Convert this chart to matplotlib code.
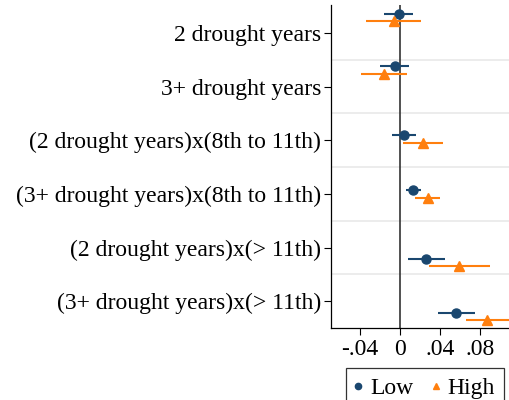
import matplotlib
matplotlib.use('Agg')
import matplotlib.pyplot as plt
from matplotlib.lines import Line2D
import numpy as np

plt.rcParams['font.family'] = ['Liberation Serif', 'DejaVu Serif']

# coefficient labels, top to bottom
labels = ['2 drought years',
          '3+ drought years',
          '(2 drought years)x(8th to 11th)',
          '(3+ drought years)x(8th to 11th)',
          '(2 drought years)x(> 11th)',
          '(3+ drought years)x(> 11th)']

# point estimates and 95% CI
low_est = [-0.001, -0.005, 0.004, 0.013, 0.026, 0.056]
low_lo = [-0.016, -0.020, -0.008, 0.006, 0.008, 0.038]
low_hi = [0.013, 0.009, 0.016, 0.021, 0.045, 0.075]

high_est = [-0.006, -0.016, 0.023, 0.028, 0.059, 0.087]
high_lo = [-0.034, -0.039, 0.003, 0.015, 0.029, 0.066]
high_hi = [0.021, 0.007, 0.043, 0.040, 0.090, 0.115]

xticks = [-0.04, 0, 0.04, 0.08]
xticklabels = ['-.04', '0', '.04', '.08']

navy = '#1a476f'
orange = '#ff7f0e'

# vertical placement of the markers relative to each label row
row_shift = [-0.36, -0.38, -0.09, -0.07, 0.21, 0.22]
high_gap = 0.14

fig = plt.figure(figsize=(5.1, 4), dpi=100)
ax = fig.add_axes([331/510, 72/400, 179/510, 323/400])

rows = np.arange(len(labels))
y_low = rows + np.array(row_shift)
y_high = y_low + high_gap

for k in range(len(labels) - 1):
    ax.axhline(k + 0.5, color='#eaeaea', lw=1.3, zorder=0)
ax.axvline(0, color='#222222', lw=1.1, zorder=1)

ax.hlines(y_low, low_lo, low_hi, color=navy, lw=1.5, zorder=2)
ax.plot(low_est, y_low, 'o', color=navy, ms=6.5, zorder=3)
ax.hlines(y_high, high_lo, high_hi, color=orange, lw=1.5, zorder=2)
ax.plot(high_est, y_high, '^', color=orange, ms=7, zorder=3)

ax.set_xlim(-0.069, 0.110)
ax.set_ylim(5.5, -0.52)
ax.set_yticks(rows)
ax.set_yticklabels(labels)
ax.set_xticks(xticks)
ax.set_xticklabels(xticklabels)
ax.tick_params(axis='both', labelsize=17, length=5, width=0.8, color='black')
ax.tick_params(axis='y', pad=2)
ax.tick_params(axis='x', pad=3)
for s in ['top', 'right']:
    ax.spines[s].set_visible(False)
for s in ['left', 'bottom']:
    ax.spines[s].set_linewidth(0.9)

handles = [Line2D([], [], marker='o', ls='none', color=navy, ms=4.5, label='Low'),
           Line2D([], [], marker='^', ls='none', color=orange, ms=5, label='High')]
leg = fig.legend(handles=handles, loc='upper center', bbox_to_anchor=(425/510, 32/400),
                 ncol=2, fontsize=17, frameon=True, fancybox=False,
                 handletextpad=0.35, columnspacing=0.8, borderpad=0.4,
                 handlelength=0.3, borderaxespad=0)
leg.get_frame().set_edgecolor('black')
leg.get_frame().set_linewidth(0.9)

fig.savefig('out.png', dpi=100)
